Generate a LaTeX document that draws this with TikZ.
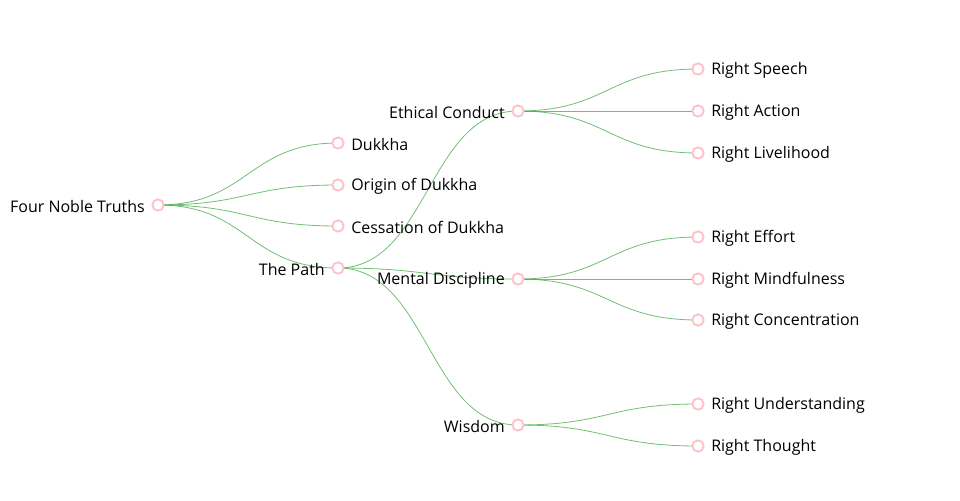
\documentclass[tikz,border=0pt]{standalone}
\usepackage{fontspec}
\setmainfont{Open Sans}
\usetikzlibrary{calc}
\newcommand\tlink[2]{\draw[lnk] let \p1=(#1), \p2=(#2) in (\p1) .. controls ({(\x1+\x2)/2},\y1) and ({(\x1+\x2)/2},\y2) .. (\p2);}
\begin{document}
\begin{tikzpicture}[x=0.75pt,y=-0.75pt,
  dot/.style={circle,draw={rgb,255:red,255;green,192;blue,203},fill=white,line width=1.4pt,minimum size=8.5pt,inner sep=0pt},
  lnk/.style={draw={rgb,255:red,76;green,175;blue,80},line width=0.6pt,opacity=0.8},
  lbl/.style={font=\fontsize{12pt}{14pt}\selectfont,inner sep=0pt,text=black,yshift=-1.2pt},
  lr/.style={lbl,anchor=west,xshift=9.75pt},
  ll/.style={lbl,anchor=east,xshift=-9.75pt}]
\useasboundingbox (0,0) rectangle (960,500);
% positions
\coordinate (r) at (158,205);
\coordinate (a1) at (338,143);
\coordinate (a2) at (338,185);
\coordinate (a3) at (338,226);
\coordinate (a4) at (338,268);
\coordinate (b1) at (518,111);
\coordinate (b2) at (518,279);
\coordinate (b3) at (518,425);
\coordinate (c1) at (698,69);
\coordinate (c2) at (698,111);
\coordinate (c3) at (698,153);
\coordinate (c4) at (698,237);
\coordinate (c5) at (698,279);
\coordinate (c6) at (698,320);
\coordinate (c7) at (698,404);
\coordinate (c8) at (698,446);
% links
\foreach \t in {a1,a2,a3,a4} {\tlink{r}{\t}}
\foreach \t in {b1,b2,b3} {\tlink{a4}{\t}}
\foreach \t in {c1,c2,c3} {\tlink{b1}{\t}}
\foreach \t in {c4,c5,c6} {\tlink{b2}{\t}}
\foreach \t in {c7,c8} {\tlink{b3}{\t}}
% dots
\foreach \n in {r,a1,a2,a3,a4,b1,b2,b3,c1,c2,c3,c4,c5,c6,c7,c8}
  \node[dot] (d\n) at (\n) {};
% labels
\node[ll] (tr) at (r) {Four Noble Truths};
\node[lr] (ta1) at (a1) {Dukkha};
\node[lr] (ta2) at (a2) {Origin of Dukkha};
\node[lr] (ta3) at (a3) {Cessation of Dukkha};
\node[ll] (ta4) at (a4) {The Path};
\node[ll] (tb1) at (b1) {Ethical Conduct};
\node[ll] (tb2) at (b2) {Mental Discipline};
\node[ll] (tb3) at (b3) {Wisdom};
\node[lr] (tc1) at (c1) {Right Speech};
\node[lr] (tc2) at (c2) {Right Action};
\node[lr] (tc3) at (c3) {Right Livelihood};
\node[lr] (tc4) at (c4) {Right Effort};
\node[lr] (tc5) at (c5) {Right Mindfulness};
\node[lr] (tc6) at (c6) {Right Concentration};
\node[lr] (tc7) at (c7) {Right Understanding};
\node[lr] (tc8) at (c8) {Right Thought};
\end{tikzpicture}
\end{document}
